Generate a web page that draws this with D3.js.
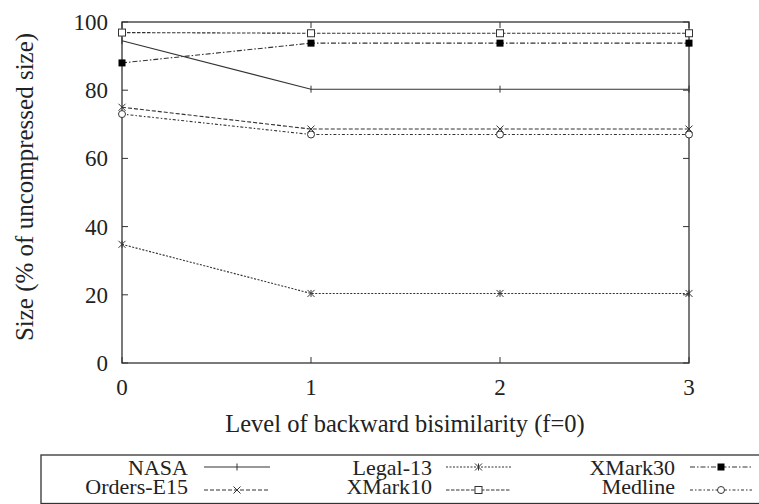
<!DOCTYPE html>
<html>
<head>
<meta charset="utf-8">
<script src="https://cdn.jsdelivr.net/npm/d3@7"></script>
<style>
  body { margin: 0; background: #fff; }
</style>
</head>
<body>
<svg id="chart" width="759" height="504"></svg>
<script>
// levels of backward bisimilarity
let levels = [0, 1, 2, 3];
let yTicks = [0, 20, 40, 60, 80, 100];

// size (% of uncompressed size) per dataset
let nasa = [94.5, 80.3, 80.3, 80.3];
let legal13 = [34.8, 20.4, 20.4, 20.4];
let xmark30 = [88, 93.8, 93.8, 93.8];
let ordersE15 = [75, 68.6, 68.6, 68.6];
let xmark10 = [96.9, 96.7, 96.7, 96.7];
let medline = [73, 67, 67, 67];

let seriesNames = ["NASA", "Legal-13", "XMark30", "Orders-E15", "XMark10", "Medline"];

let series = [
  {values: nasa, dash: null, marker: "plus"},
  {values: legal13, dash: "2,1.5", marker: "star"},
  {values: xmark30, dash: "5,2,1.5,2", marker: "fsquare"},
  {values: ordersE15, dash: "4,2", marker: "cross"},
  {values: xmark10, dash: "3.5,1.5", marker: "osquare"},
  {values: medline, dash: "3,2,1.5,2", marker: "circle"}
];

let svg = d3.select("#chart");
let ink = "#333";
let textInk = "#222";
let serif = '"Liberation Serif"';

let plotL = 122, plotR = 689, plotT = 22, plotB = 363;

let x = d3.scaleLinear().domain([0, 3]).range([plotL, plotR]);
let y = d3.scaleLinear().domain([0, 100]).range([plotB, plotT]);

function addText(sel, tx, ty, str, size, anchor) {
  return sel.append("text")
            .attr("x", tx).attr("y", ty)
            .attr("text-anchor", anchor)
            .attr("fill", textInk)
            .style("font-family", serif)
            .style("font-size", size + "px")
            .text(str);
}

// frame
svg.append("rect")
   .attr("x", plotL).attr("y", plotT)
   .attr("width", plotR - plotL).attr("height", plotB - plotT)
   .attr("fill", "none").attr("stroke", ink).attr("stroke-width", 1.3);

// ticks (inside, mirrored)
let tickLen = 6;
let g = svg.append("g");
for (let t of yTicks) {
  g.append("line").attr("x1", plotL).attr("x2", plotL + tickLen)
   .attr("y1", y(t)).attr("y2", y(t)).attr("stroke", ink);
  g.append("line").attr("x1", plotR).attr("x2", plotR - tickLen)
   .attr("y1", y(t)).attr("y2", y(t)).attr("stroke", ink);
  addText(g, 108, y(t) + 8, t, 23, "end");
}
for (let l of levels) {
  g.append("line").attr("x1", x(l)).attr("x2", x(l))
   .attr("y1", plotB).attr("y2", plotB - tickLen).attr("stroke", ink);
  g.append("line").attr("x1", x(l)).attr("x2", x(l))
   .attr("y1", plotT).attr("y2", plotT + tickLen).attr("stroke", ink);
  addText(g, x(l), 395, l, 23, "middle");
}

addText(svg, 405, 432, "Level of backward bisimilarity (f=0)", 24.5, "middle");

addText(svg, 0, 0, "Size (% of uncompressed size)", 25, "middle")
   .attr("transform", "translate(33,187) rotate(-90)");

function drawMarker(sel, type, cx, cy) {
  let s = 3.5;
  if (type === "plus") {
    sel.append("line").attr("x1", cx).attr("x2", cx)
       .attr("y1", cy - s).attr("y2", cy + s).attr("stroke", ink);
  } else if (type === "cross") {
    sel.append("path")
       .attr("d", `M${cx-s},${cy-s}L${cx+s},${cy+s}M${cx-s},${cy+s}L${cx+s},${cy-s}`)
       .attr("stroke", ink).attr("fill", "none");
  } else if (type === "star") {
    sel.append("path")
       .attr("d", `M${cx-s},${cy-s}L${cx+s},${cy+s}M${cx-s},${cy+s}L${cx+s},${cy-s}M${cx},${cy-s}L${cx},${cy+s}`)
       .attr("stroke", ink).attr("fill", "none");
  } else if (type === "fsquare") {
    sel.append("rect").attr("x", cx - s).attr("y", cy - s)
       .attr("width", 2 * s).attr("height", 2 * s).attr("fill", "#000");
  } else if (type === "osquare") {
    sel.append("rect").attr("x", cx - s).attr("y", cy - s)
       .attr("width", 2 * s).attr("height", 2 * s)
       .attr("fill", "#fff").attr("stroke", ink);
  } else if (type === "circle") {
    sel.append("circle").attr("cx", cx).attr("cy", cy).attr("r", s)
       .attr("fill", "#fff").attr("stroke", ink);
  }
}

let line = d3.line().x((d, i) => x(levels[i])).y(d => y(d));

let plot = svg.append("g");
for (let s of series) {
  plot.append("path")
      .attr("d", line(s.values))
      .attr("fill", "none")
      .attr("stroke", ink)
      .attr("stroke-width", 1.1)
      .attr("stroke-dasharray", s.dash);
  s.values.forEach((v, i) => drawMarker(plot, s.marker, x(levels[i]), y(v)));
}

// legend
let legend = svg.append("g");
legend.append("rect")
      .attr("x", 41).attr("y", 455).attr("width", 740).attr("height", 48.5)
      .attr("fill", "#fff").attr("stroke", ink).attr("stroke-width", 1.3);

let colText = [188, 432, 675];
let colLine = [[204, 270], [446, 511], [690, 752]];
let rowLine = [467, 490];
let rowBase = [475, 494];

series.forEach((s, i) => {
  let c = i % 3, r = Math.floor(i / 3);
  addText(legend, colText[c], rowBase[r], seriesNames[i], 22, "end");
  legend.append("line")
        .attr("x1", colLine[c][0]).attr("x2", colLine[c][1])
        .attr("y1", rowLine[r]).attr("y2", rowLine[r])
        .attr("stroke", ink).attr("stroke-width", 1.1)
        .attr("stroke-dasharray", s.dash);
  drawMarker(legend, s.marker, (colLine[c][0] + colLine[c][1]) / 2, rowLine[r]);
});
</script>
</body>
</html>
